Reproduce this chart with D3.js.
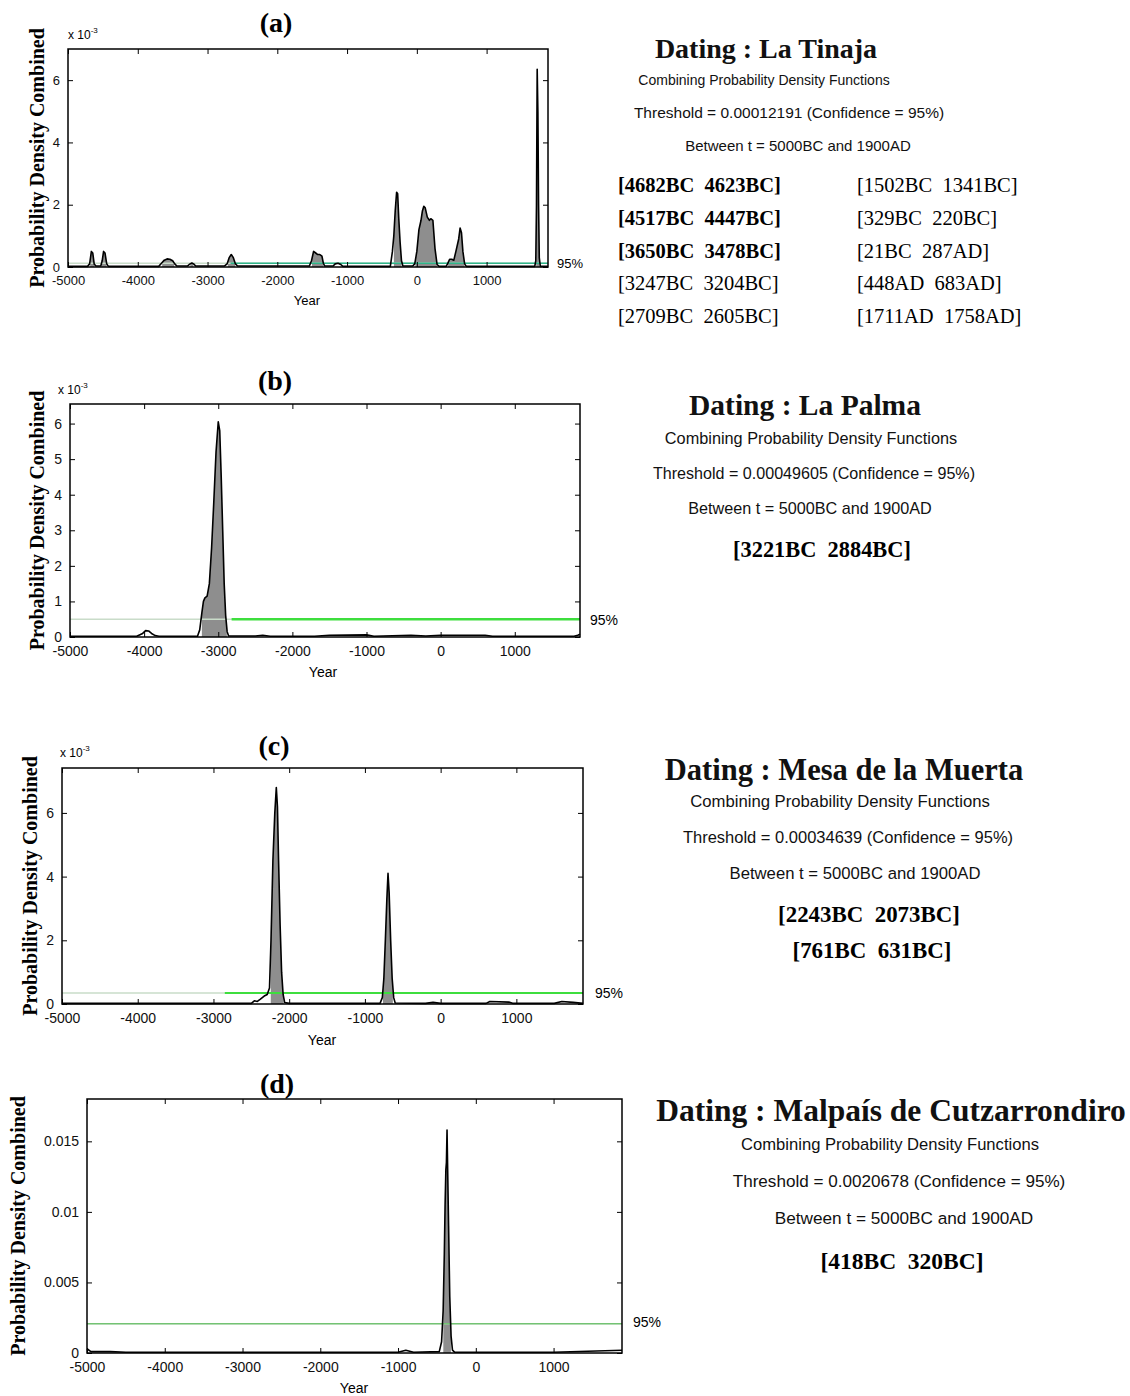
<!DOCTYPE html>
<html>
<head>
<meta charset="utf-8">
<script src="https://cdn.jsdelivr.net/npm/d3@7"></script>
<style>
  body { margin: 0; background: #fff; }
  .tick text { font-family: "Liberation Sans", Arial, sans-serif; fill: #111; }
  .serif { font-family: "Liberation Serif", "Times New Roman", serif; }
  .sans { font-family: "Liberation Sans", Arial, sans-serif; }
</style>
</head>
<body>
<svg id="chart"></svg>
<script>
// ---- data ----
const panelTags = ['(a)', '(b)', '(c)', '(d)'];
const siteNames = ['La Tinaja', 'La Palma', 'Mesa de la Muerta', 'Malpaís de Cutzarrondiro'];
const thresholdText = ['0.00012191', '0.00049605', '0.00034639', '0.0020678'];
const thresholds = [0.00012191, 0.00049605, 0.00034639, 0.0020678];
const yUnit = [1e-3, 1e-3, 1e-3, 1];
const yMax = [7, 6.55, 7.41, 0.018];
const yTicks = [[0, 2, 4, 6], [0, 1, 2, 3, 4, 5, 6], [0, 2, 4, 6], [0, 0.005, 0.01, 0.015]];
const xTicks = [-5000, -4000, -3000, -2000, -1000, 0, 1000];
const xDomain = [-5000, 1880];
// bright part of the 95% line starts here (years)
const thresholdFrom = [-2670, -2820, -2850, -5000];

// highest density intervals, negative = BC
const intervalsA = [[-4682, -4623], [-4517, -4447], [-3650, -3478], [-3247, -3204], [-2709, -2605],
                    [-1502, -1341], [-329, -220], [-21, 287], [448, 683], [1711, 1758]];
const intervalsB = [[-3221, -2884]];
const intervalsC = [[-2243, -2073], [-761, -631]];
const intervalsD = [[-418, -320]];

// combined pdf, [year, density] (a-c in units of 1e-3)
const curveA = [[-5000, 0.02], [-4720, 0.02], [-4690, 0.1], [-4665, 0.5], [-4645, 0.45], [-4625, 0.1], [-4600, 0.03],
  [-4530, 0.03], [-4510, 0.2], [-4490, 0.5], [-4470, 0.45], [-4445, 0.1], [-4420, 0.02],
  [-3700, 0.02], [-3660, 0.12], [-3620, 0.22], [-3580, 0.26], [-3540, 0.25], [-3500, 0.2], [-3470, 0.1], [-3440, 0.03],
  [-3290, 0.03], [-3250, 0.1], [-3225, 0.13], [-3200, 0.1], [-3170, 0.03],
  [-2760, 0.03], [-2720, 0.1], [-2690, 0.3], [-2660, 0.4], [-2630, 0.3], [-2600, 0.1], [-2570, 0.03],
  [-1540, 0.03], [-1510, 0.2], [-1480, 0.5], [-1450, 0.45], [-1420, 0.4], [-1390, 0.4], [-1360, 0.35], [-1340, 0.12], [-1320, 0.03],
  [-1200, 0.03], [-1170, 0.1], [-1130, 0.12], [-1090, 0.08], [-1060, 0.02],
  [-380, 0.02], [-350, 0.5], [-330, 1.0], [-310, 1.8], [-290, 2.4], [-275, 2.35], [-260, 1.6], [-240, 0.8], [-220, 0.2], [-200, 0.03],
  [-60, 0.03], [-30, 0.1], [0, 0.5], [30, 1.2], [60, 1.5], [80, 1.8], [100, 1.95], [120, 1.9], [150, 1.6], [180, 1.5],
  [200, 1.55], [230, 1.5], [260, 0.6], [290, 0.08], [320, 0.02],
  [420, 0.02], [440, 0.1], [470, 0.25], [500, 0.25], [530, 0.22], [560, 0.5], [600, 0.9], [620, 1.25], [640, 1.1], [660, 0.5], [685, 0.1], [710, 0.02],
  [1690, 0.02], [1705, 0.2], [1715, 2.0], [1725, 6.35], [1735, 5.0], [1745, 2.0], [1755, 0.3], [1770, 0.02], [1880, 0.02]];
const curveB = [[-5000, 0.02], [-4100, 0.02], [-4020, 0.1], [-3980, 0.18], [-3940, 0.17], [-3900, 0.1], [-3850, 0.04], [-3800, 0.02],
  [-3280, 0.02], [-3250, 0.2], [-3220, 0.7], [-3200, 1.0], [-3180, 1.1], [-3150, 1.15], [-3120, 1.5], [-3090, 2.5], [-3060, 3.8],
  [-3030, 5.2], [-3000, 6.05], [-2980, 5.8], [-2960, 4.5], [-2940, 3.0], [-2920, 1.5], [-2900, 0.6], [-2880, 0.15], [-2860, 0.03],
  [-2500, 0.03], [-2400, 0.05], [-2300, 0.02], [-1700, 0.02], [-1500, 0.05], [-1000, 0.06], [-900, 0.02], [-400, 0.05],
  [-200, 0.03], [0, 0.05], [600, 0.05], [700, 0.02], [1800, 0.02], [1850, 0.05], [1880, 0.08]];
const curveC = [[-5000, 0.02], [-2500, 0.02], [-2460, 0.1], [-2420, 0.08], [-2380, 0.15], [-2330, 0.25], [-2290, 0.3], [-2260, 0.5],
  [-2240, 2.0], [-2215, 4.5], [-2190, 6.0], [-2170, 6.8], [-2155, 6.2], [-2140, 4.5], [-2120, 2.5], [-2100, 1.0], [-2080, 0.3],
  [-2060, 0.05], [-2000, 0.02], [-800, 0.02], [-770, 0.2], [-750, 0.8], [-730, 2.0], [-710, 3.3], [-695, 4.1], [-680, 3.5],
  [-660, 2.0], [-640, 0.8], [-620, 0.2], [-600, 0.03], [-200, 0.02], [-100, 0.05], [0, 0.02], [600, 0.02], [650, 0.08],
  [900, 0.06], [950, 0.02], [1500, 0.02], [1600, 0.08], [1750, 0.05], [1880, 0.02]];
const curveD = [[-5000, 0.0003], [-4950, 0.0001], [-4700, 0.0001], [-4500, 0.00005], [-1000, 0.00005], [-900, 0.0002],
  [-800, 0.00005], [-470, 0.0001], [-440, 0.0008], [-420, 0.003], [-405, 0.007], [-395, 0.0105], [-385, 0.013],
  [-378, 0.0135], [-370, 0.0158], [-362, 0.013], [-350, 0.009], [-335, 0.004], [-318, 0.0012], [-300, 0.0002],
  [-270, 0.00005], [1000, 0.00005], [1880, 0.0002]];

const curves = [curveA, curveB, curveC, curveD];
const intervals = [intervalsA, intervalsB, intervalsC, intervalsD];

// ---- layout ----
const boxes = [
  {x0: 68, x1: 548, y0: 49, y1: 267},
  {x0: 70, x1: 580, y0: 404, y1: 637},
  {x0: 62, x1: 583, y0: 768, y1: 1004},
  {x0: 87, x1: 622, y0: 1099, y1: 1353}
];
const tagPos = [[276, 22], [275, 380], [274, 745], [277, 1083]];
const expPos = [[68, 35], [58, 390], [60, 753], null];
const yLabelX = [37, 37, 30, 18];
const yearPos = [[307, 300], [323, 672], [322, 1040], [354, 1388]];
const pctPos = [[557, 263], [590, 620], [595, 993], [633, 1322]];
const lineStyle = [
  {c: '#2fb58a', w: 1.5}, {c: '#3ede3e', w: 2.5}, {c: '#3ede3e', w: 2}, {c: '#4cb84c', w: 1}
];
// text block: [title, combining, threshold, between] centres and rows
const textX = [[766, 764, 789, 798], [805, 811, 814, 810], [844, 840, 848, 855], [891, 890, 899, 904]];
const textY = [[48, 80, 113, 146], [405, 438, 473, 508], [769, 801, 837, 873], [1110, 1144, 1181, 1218]];
const textSize = [[28, 14, 15.5, 15], [29.5, 16.3, 16.1, 16.2], [30.5, 16.7, 16.5, 16.7], [31.5, 16.6, 17.1, 17.2]];
const intSize = [20.5, 22.4, 22.9, 23.5];

const svg = d3.select('#chart').attr('width', 1130).attr('height', 1396);
svg.append('rect').attr('width', 1130).attr('height', 1396).attr('fill', '#fff');

function yearText(y) { return y < 0 ? (-y) + 'BC' : y + 'AD'; }
function intText(iv) { return '[' + yearText(iv[0]) + '\u00a0\u00a0' + yearText(iv[1]) + ']'; }

curves.forEach((curve, i) => {
  const b = boxes[i];
  const x = d3.scaleLinear().domain(xDomain).range([b.x0, b.x1]);
  const y = d3.scaleLinear().domain([0, yMax[i]]).range([b.y1, b.y0]);
  const g = svg.append('g').attr('class', 'panel');

  // clip for filled intervals
  const clipId = 'clip' + i;
  const clip = g.append('clipPath').attr('id', clipId);
  clip.selectAll('rect').data(intervals[i]).enter().append('rect')
    .attr('x', d => x(d[0])).attr('width', d => x(d[1]) - x(d[0]))
    .attr('y', b.y0).attr('height', b.y1 - b.y0);

  const area = d3.area().x(d => x(d[0])).y0(y(0)).y1(d => y(d[1]));
  const line = d3.line().x(d => x(d[0])).y(d => y(d[1]));

  g.append('path').datum(curve).attr('d', area)
    .attr('fill', '#8e8e8e').attr('clip-path', `url(#${clipId})`);

  // threshold line
  const ty = y(thresholds[i] / yUnit[i]);
  g.append('line').attr('x1', b.x0).attr('x2', b.x1).attr('y1', ty).attr('y2', ty)
    .attr('stroke', '#c9dcc9').attr('stroke-width', 1.5);
  g.append('line').attr('x1', x(thresholdFrom[i])).attr('x2', b.x1).attr('y1', ty).attr('y2', ty)
    .attr('stroke', lineStyle[i].c).attr('stroke-width', lineStyle[i].w);

  g.append('path').datum(curve).attr('d', line)
    .attr('fill', 'none').attr('stroke', '#000').attr('stroke-width', 1.6).attr('stroke-linejoin', 'round');

  // axes, ticks inside like matlab
  const fs = i === 0 ? 13 : 14;
  g.append('g').attr('transform', `translate(0,${b.y1})`)
    .call(d3.axisBottom(x).tickValues(xTicks).tickSizeInner(-5).tickSizeOuter(0).tickPadding(9).tickFormat(d => String(d)));
  g.append('g').attr('transform', `translate(0,${b.y0})`)
    .call(d3.axisTop(x).tickValues(xTicks).tickSizeInner(-5).tickSizeOuter(0).tickFormat(''));
  g.append('g').attr('transform', `translate(${b.x0},0)`)
    .call(d3.axisLeft(y).tickValues(yTicks[i]).tickSizeInner(-5).tickSizeOuter(0).tickPadding(8).tickFormat(d => String(d)));
  g.append('g').attr('transform', `translate(${b.x1},0)`)
    .call(d3.axisRight(y).tickValues(yTicks[i]).tickSizeInner(-5).tickSizeOuter(0).tickFormat(''));
  g.selectAll('.domain').remove();
  g.selectAll('.tick line').attr('stroke', '#000').attr('stroke-width', 1);
  g.selectAll('.tick text').style('font-size', fs + 'px');

  g.append('rect').attr('x', b.x0).attr('y', b.y0).attr('width', b.x1 - b.x0).attr('height', b.y1 - b.y0)
    .attr('fill', 'none').attr('stroke', '#000').attr('stroke-width', 1.5);

  // labels
  g.append('text').attr('class', 'serif').attr('x', tagPos[i][0]).attr('y', tagPos[i][1]).attr('dy', '0.35em')
    .attr('text-anchor', 'middle').style('font-size', '28px').style('font-weight', 'bold').text(panelTags[i]);
  if (expPos[i]) {
    const t = g.append('text').attr('class', 'sans').attr('x', expPos[i][0]).attr('y', expPos[i][1] + 4)
      .style('font-size', '12px').text('x 10');
    t.append('tspan').attr('dy', -6).style('font-size', '8px').text('-3');
  }
  const yc = (b.y0 + b.y1) / 2;
  g.append('text').attr('class', 'serif')
    .attr('transform', `translate(${yLabelX[i]},${yc}) rotate(-90)`).attr('dy', '0.35em')
    .attr('text-anchor', 'middle').style('font-size', '20px').style('font-weight', 'bold')
    .text('Probability Density Combined');
  g.append('text').attr('class', 'sans').attr('x', yearPos[i][0]).attr('y', yearPos[i][1]).attr('dy', '0.35em')
    .attr('text-anchor', 'middle').style('font-size', fs + 'px').text('Year');
  g.append('text').attr('class', 'sans').attr('x', pctPos[i][0]).attr('y', pctPos[i][1]).attr('dy', '0.35em')
    .style('font-size', fs + 'px').text('95%');

  // text block on right
  const lines = ['Dating : ' + siteNames[i], 'Combining Probability Density Functions',
    'Threshold = ' + thresholdText[i] + ' (Confidence = 95%)', 'Between t = 5000BC and 1900AD'];
  lines.forEach((s, k) => {
    g.append('text').attr('class', k === 0 ? 'serif' : 'sans')
      .attr('x', textX[i][k]).attr('y', textY[i][k]).attr('dy', '0.35em').attr('text-anchor', 'middle')
      .style('font-size', textSize[i][k] + 'px').style('font-weight', k === 0 ? 'bold' : 'normal')
      .style('fill', '#111').text(s);
  });
});

// interval lists
// panel (a): two columns of five
intervalsA.forEach((iv, k) => {
  const col = k < 5 ? 0 : 1, row = k % 5;
  svg.append('text').attr('class', 'serif')
    .attr('x', col === 0 ? 618 : 857).attr('y', [185, 218, 251, 283, 316][row]).attr('dy', '0.35em')
    .style('font-size', intSize[0] + 'px').style('font-weight', k < 3 ? 'bold' : 'normal')
    .text(intText(iv));
});
const intRows = [null, [[822, 549]], [[869, 914], [872, 950]], [[902, 1261]]];
[intervalsB, intervalsC, intervalsD].forEach((list, j) => {
  const i = j + 1;
  list.forEach((iv, k) => {
    svg.append('text').attr('class', 'serif')
      .attr('x', intRows[i][k][0]).attr('y', intRows[i][k][1]).attr('dy', '0.35em').attr('text-anchor', 'middle')
      .style('font-size', intSize[i] + 'px').style('font-weight', 'bold').text(intText(iv));
  });
});
</script>
</body>
</html>
